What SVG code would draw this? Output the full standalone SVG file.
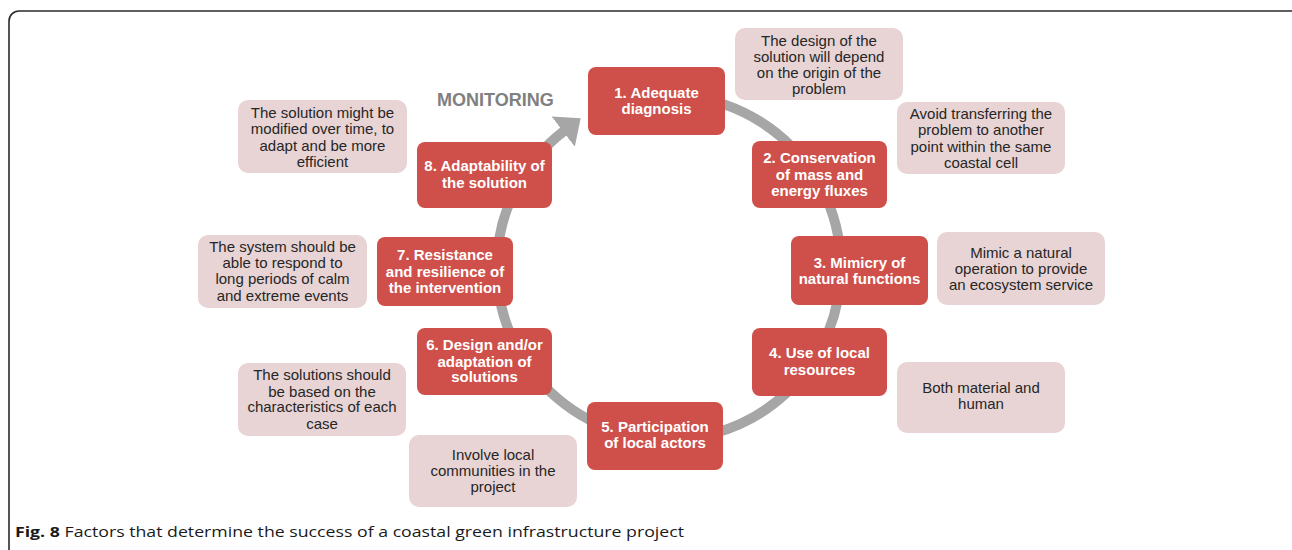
<svg xmlns="http://www.w3.org/2000/svg" width="1292" height="550" viewBox="0 0 1292 550">
<defs>
<style>
.node rect{fill:#cf4f4a;}
.node text{font-family:"Liberation Sans",Arial,sans-serif;font-weight:bold;font-size:15px;fill:#ffffff;text-anchor:middle;}
.note rect{fill:#e8d4d4;}
.note text{font-family:"Liberation Sans",Arial,sans-serif;font-size:15px;fill:#262626;text-anchor:middle;}
.ring{fill:none;stroke:#a6a6a6;stroke-width:10;}
</style>
<marker id="head" markerUnits="userSpaceOnUse" markerWidth="24" markerHeight="40" viewBox="0 0 24 40" refX="1" refY="20" orient="auto">
<path d="M0,1 L22,20 L0,39 Z" fill="#a6a6a6"/>
</marker>
</defs>
<rect x="9" y="11" width="1292" height="600" rx="10" fill="none" stroke="#2b2b2b" stroke-width="1.6"/>
<g id="connectors">
<path class="ring" d="M 690 96.6 A 172 172 0 1 1 564 131" marker-end="url(#head)"/>
</g>
<text x="437" y="106" font-family="Liberation Sans,Arial,sans-serif" font-weight="bold" font-size="18" fill="#808080">MONITORING</text>
<g id="node1" class="node"><rect x="588" y="67" width="137" height="68" rx="8"/><text x="656.5" y="98">1. Adequate</text><text x="656.5" y="114">diagnosis</text></g>
<g id="node2" class="node"><rect x="752" y="141" width="135" height="67" rx="8"/><text x="819.5" y="163">2. Conservation</text><text x="819.5" y="180">of mass and</text><text x="819.5" y="196">energy fluxes</text></g>
<g id="node3" class="node"><rect x="791" y="236" width="137" height="69" rx="8"/><text x="859.5" y="268">3. Mimicry of</text><text x="859.5" y="284">natural functions</text></g>
<g id="node4" class="node"><rect x="752" y="328" width="135" height="68" rx="8"/><text x="819.5" y="358">4. Use of local</text><text x="819.5" y="375">resources</text></g>
<g id="node5" class="node"><rect x="587" y="402" width="136" height="68" rx="8"/><text x="655" y="432">5. Participation</text><text x="655" y="448">of local actors</text></g>
<g id="node6" class="node"><rect x="417" y="328" width="135" height="67" rx="8"/><text x="484.5" y="350">6. Design and/or</text><text x="484.5" y="367">adaptation of</text><text x="484.5" y="382">solutions</text></g>
<g id="node7" class="node"><rect x="377" y="237" width="136" height="69" rx="8"/><text x="445" y="260">7. Resistance</text><text x="445" y="277">and resilience of</text><text x="445" y="293">the intervention</text></g>
<g id="node8" class="node"><rect x="417" y="142" width="135" height="66" rx="8"/><text x="484.5" y="171">8. Adaptability of</text><text x="484.5" y="188">the solution</text></g>
<g id="noteA" class="note"><rect x="735" y="28" width="168" height="72" rx="10"/><text x="819" y="46">The design of the</text><text x="819" y="62">solution will depend</text><text x="819" y="78">on the origin of the</text><text x="819" y="94">problem</text></g>
<g id="noteB" class="note"><rect x="897" y="102" width="168" height="72" rx="10"/><text x="981" y="119">Avoid transferring the</text><text x="981" y="135">problem to another</text><text x="981" y="152">point within the same</text><text x="981" y="168">coastal cell</text></g>
<g id="noteC" class="note"><rect x="937" y="232" width="168" height="73" rx="10"/><text x="1021" y="258">Mimic a natural</text><text x="1021" y="274">operation to provide</text><text x="1021" y="290">an ecosystem service</text></g>
<g id="noteD" class="note"><rect x="897" y="362" width="168" height="71" rx="10"/><text x="981" y="393">Both material and</text><text x="981" y="409">human</text></g>
<g id="noteE" class="note"><rect x="409" y="435" width="168" height="72" rx="10"/><text x="493" y="460">Involve local</text><text x="493" y="476">communities in the</text><text x="493" y="492">project</text></g>
<g id="noteF" class="note"><rect x="238" y="363" width="168" height="73" rx="10"/><text x="322" y="380">The solutions should</text><text x="322" y="397">be based on the</text><text x="322" y="412">characteristics of each</text><text x="322" y="429">case</text></g>
<g id="noteG" class="note"><rect x="198" y="235" width="169" height="73" rx="10"/><text x="282.5" y="252">The system should be</text><text x="282.5" y="268">able to respond to</text><text x="282.5" y="284">long periods of calm</text><text x="282.5" y="301">and extreme events</text></g>
<g id="noteH" class="note"><rect x="238" y="100" width="169" height="73" rx="10"/><text x="322.5" y="118">The solution might be</text><text x="322.5" y="134">modified over time, to</text><text x="322.5" y="151">adapt and be more</text><text x="322.5" y="167">efficient</text></g>
<text x="15" y="537" font-family="Open Sans,Noto Sans,sans-serif" font-size="14" fill="#1a1a1a" textLength="669" lengthAdjust="spacingAndGlyphs"><tspan font-weight="bold">Fig. 8</tspan> Factors that determine the success of a coastal green infrastructure project</text>
</svg>
